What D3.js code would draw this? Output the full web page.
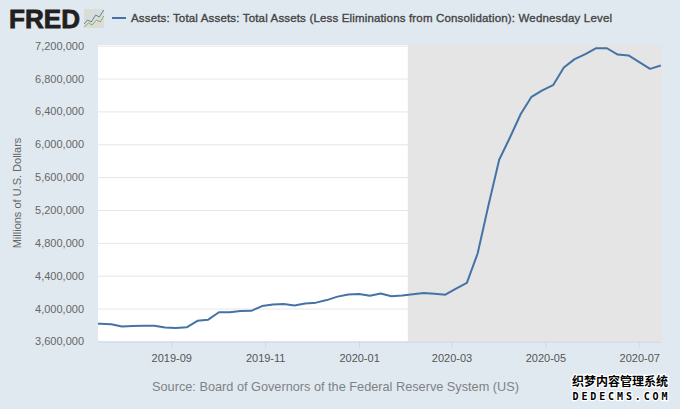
<!DOCTYPE html>
<html><head><meta charset="utf-8">
<script src="https://cdnjs.cloudflare.com/ajax/libs/d3/7.8.5/d3.min.js"></script>
<style>
html,body{margin:0;padding:0;background:#e1e9f0;overflow:hidden}
svg{display:block}
text{font-family:"Liberation Sans",Arial,sans-serif}
</style></head><body>
<svg id="c" width="680" height="409"></svg>
<script>
const seriesTitle = "Assets: Total Assets: Total Assets (Less Eliminations from Consolidation): Wednesday Level";
const yAxisTitle = "Millions of U.S. Dollars";
const sourceText = "Source: Board of Governors of the Federal Reserve System (US)";
const yTicks = [3600000,4000000,4400000,4800000,5200000,5600000,6000000,6400000,6800000,7200000];
const xTickDates = ["2019-09-01","2019-11-01","2020-01-01","2020-03-01","2020-05-01","2020-07-01"];
const recession = ["2020-02-01","2020-07-16"];
const dates = ["2019-07-10","2019-07-17","2019-07-24","2019-07-31","2019-08-07","2019-08-14","2019-08-21","2019-08-28",
"2019-09-04","2019-09-11","2019-09-18","2019-09-25","2019-10-02","2019-10-09","2019-10-16","2019-10-23","2019-10-30",
"2019-11-06","2019-11-13","2019-11-20","2019-11-27","2019-12-04","2019-12-11","2019-12-18","2019-12-25",
"2020-01-01","2020-01-08","2020-01-15","2020-01-22","2020-01-29","2020-02-05","2020-02-12","2020-02-19","2020-02-26",
"2020-03-04","2020-03-11","2020-03-18","2020-03-25","2020-04-01","2020-04-08","2020-04-15","2020-04-22","2020-04-29",
"2020-05-06","2020-05-13","2020-05-20","2020-05-27","2020-06-03","2020-06-10","2020-06-17","2020-06-24",
"2020-07-01","2020-07-08","2020-07-15"];
const values = [3820000,3815000,3810000,3782000,3788000,3790000,3790000,3770000,
3763000,3772000,3850000,3865000,3955000,3955000,3970000,3972000,4030000,
4050000,4056000,4037000,4062000,4072000,4103000,4145000,4170000,
4177000,4155000,4182000,4150000,4160000,4175000,4188000,4180000,4168000,
4242000,4312000,4670000,5254000,5811000,6083000,6368000,6578000,6656000,
6719000,6934000,7037000,7097000,7169000,7169000,7092000,7082000,
7000000,6918000,6958000];
const logoText = "FRED";
const iconBlue = [[0,15],[4,11],[8,13],[13,6],[17,8],[22,1]];
const iconGreen = [[0,18],[5,14],[9,16],[14,11],[18,13],[22,7]];

const parse = d3.utcParse("%Y-%m-%d");
const W=680,H=409,L=98,R=662,T=45,B=341.5;
const svg=d3.select("#c");
svg.append("rect").attr("width",W).attr("height",H).attr("fill","#e1e9f0");
svg.append("rect").attr("x",L).attr("y",T).attr("width",R-L).attr("height",B-T).attr("fill","#fff");

const x=d3.scaleUtc().domain([new Date(Date.UTC(2019,6,15,10)),new Date(Date.UTC(2020,6,15,18))]).range([L,R]);
const y=d3.scaleLinear().domain([3600000,7200000]).range([341.4,45.7]);

// gridlines
svg.append("g").attr("transform",`translate(${L},0)`)
 .call(d3.axisLeft(y).tickValues(yTicks).tickSize(-(R-L)).tickFormat(""))
 .call(g=>g.select(".domain").remove())
 .call(g=>g.selectAll("line").attr("stroke","#e6e6e6"));

// recession band
svg.append("rect").attr("x",x(parse(recession[0]))+1).attr("y",T)
 .attr("width",R-x(parse(recession[0]))-1).attr("height",B-T).attr("fill","#e5e5e5");

// y labels
const ya=svg.append("g").attr("transform",`translate(${L},0)`)
 .call(d3.axisLeft(y).tickValues(yTicks).tickSize(0).tickPadding(14).tickFormat(d3.format(",")));
ya.select(".domain").remove();
ya.selectAll("text").attr("fill","#666").attr("font-size","11px").style("font-family",'"Liberation Sans"');

// x axis
const xa=svg.append("g").attr("transform",`translate(0,${B})`)
 .call(d3.axisBottom(x).tickValues(xTickDates.map(parse)).tickSize(6).tickPadding(7).tickFormat(d3.utcFormat("%Y-%m")));
xa.select(".domain").attr("stroke","#ccd6eb").attr("d",`M${L},0.5H${R}`);
xa.selectAll("line").attr("stroke","#ccd6eb");
xa.selectAll("text").attr("fill","#555").attr("font-size","11px").attr("font-weight","400").style("font-family",'"Liberation Sans"');

// line
svg.append("clipPath").attr("id","pc").append("rect").attr("x",L).attr("y",T).attr("width",R-L).attr("height",B-T);
const data=dates.map((d,i)=>({d:parse(d),v:values[i]}));
svg.append("path").datum(data).attr("clip-path","url(#pc)").attr("fill","none")
 .attr("stroke","#4572a7").attr("stroke-width",2).attr("stroke-linejoin","round")
 .attr("d",d3.line().x(p=>x(p.d)).y(p=>y(p.v)));

// header
svg.append("text").attr("x",9).attr("y",27.5).text(logoText).attr("fill","#231f20")
 .attr("font-size","26px").attr("font-weight","700").attr("stroke","#231f20").attr("stroke-width",0.8)
 .attr("textLength",71).attr("lengthAdjust","spacingAndGlyphs");
const icon=svg.append("g").attr("transform","translate(84,9)");
icon.append("rect").attr("width",20).attr("height",19).attr("rx",2).attr("fill","#d9dcd8");
const il=d3.line().x(p=>p[0]*0.9).y(p=>p[1]);
icon.append("path").attr("d",il(iconBlue)).attr("fill","none").attr("stroke","#5b86a8").attr("stroke-width",1);
icon.append("path").attr("d",il(iconGreen)).attr("fill","none").attr("stroke","#8fae5a").attr("stroke-width",1);

svg.append("line").attr("x1",112).attr("x2",126).attr("y1",18).attr("y2",18).attr("stroke","#4572a7").attr("stroke-width",2);
svg.append("text").attr("x",131).attr("y",22).text(seriesTitle).attr("fill","#444")
 .attr("font-size","11.5px").attr("font-weight","400").attr("stroke","#444").attr("stroke-width",0.35)
 .attr("textLength",481).attr("lengthAdjust","spacing");

svg.append("text").attr("transform","translate(21,193) rotate(-90)").attr("text-anchor","middle")
 .text(yAxisTitle).attr("fill","#666").attr("font-size","11px");

svg.append("text").attr("x",335.5).attr("y",391).attr("text-anchor","middle").text(sourceText)
 .attr("fill","#7d8287").attr("font-size","12.72px");

// watermark
const wm=svg.append("g").style("paint-order","stroke");
wm.append("text").attr("x",620).attr("y",385.5).attr("text-anchor","middle").text("织梦内容管理系统")
 .style("font-family",'"Noto Sans CJK SC"').attr("font-size","12px").attr("font-weight","700")
 .attr("fill","#000").attr("stroke","#fff").attr("stroke-width",2.5);
wm.append("text").attr("x",620).attr("y",399.5).attr("text-anchor","middle").text("DEDECMS.COM")
 .style("font-family",'"DejaVu Sans Mono"').attr("font-size","10px").attr("font-weight","700")
 .attr("textLength",95).attr("fill","#000").attr("stroke","#fff").attr("stroke-width",2.5);
</script></body></html>
